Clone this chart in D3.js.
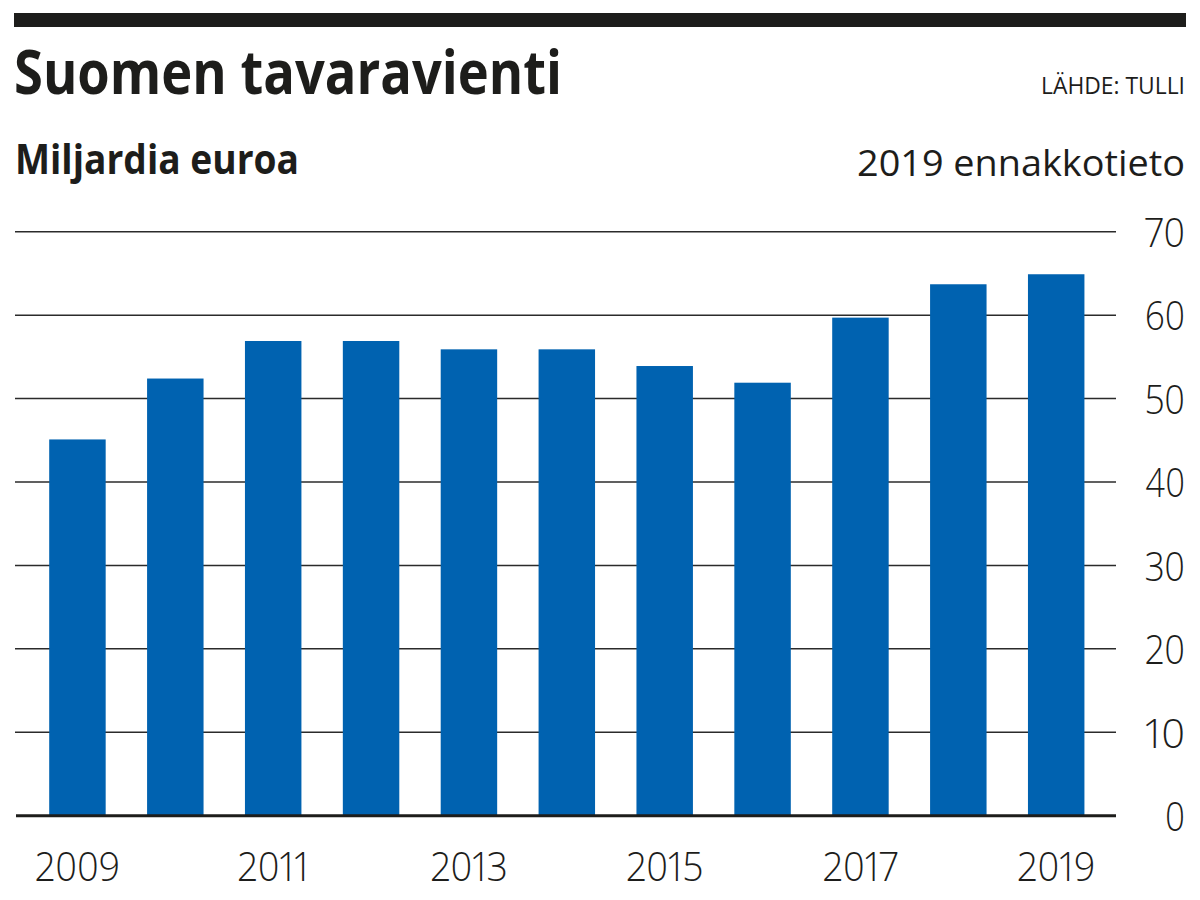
<!DOCTYPE html>
<html>
<head>
<meta charset="utf-8">
<script src="https://cdn.jsdelivr.net/npm/d3@7"></script>
<style>
  html, body { margin: 0; padding: 0; background: #fff; }
  svg { display: block; }
  text { font-family: "Open Sans", "Noto Sans", sans-serif; fill: #1d1d1b; }
  .num { font-feature-settings: "pnum" 1; font-variant-numeric: proportional-nums; }
</style>
</head>
<body>
<svg id="chart" width="1200" height="900"></svg>
<script>
// ---- data ----
const years = ["2009","2010","2011","2012","2013","2014","2015","2016","2017","2018","2019"];
const exportsBn = [45.1, 52.4, 56.9, 56.9, 55.9, 55.9, 53.9, 51.9, 59.7, 63.7, 64.9];
const yTicks = [0, 10, 20, 30, 40, 50, 60, 70];
const xTickLabels = ["2009","2011","2013","2015","2017","2019"];
const titleText = "Suomen tavaravienti";
const sourceText = "LÄHDE: TULLI";
const unitText = "Miljardia euroa";
const noteText = "2019 ennakkotieto";

const svg = d3.select("#chart");

// top rule
svg.append("rect").attr("x", 14).attr("y", 13).attr("width", 1172).attr("height", 14).attr("fill", "#1d1d1b");

// titles
svg.append("text").attr("x", 14).attr("y", 94)
  .attr("font-size", 60).attr("font-weight", 700)
  .attr("textLength", 548).attr("lengthAdjust", "spacingAndGlyphs")
  .text(titleText);
svg.append("text").attr("x", 1185).attr("y", 94).attr("text-anchor", "end")
  .attr("font-size", 23).attr("font-weight", 400)
  .attr("textLength", 144).attr("lengthAdjust", "spacingAndGlyphs")
  .text(sourceText);
svg.append("text").attr("x", 15).attr("y", 174)
  .attr("font-size", 42).attr("font-weight", 700)
  .attr("textLength", 284).attr("lengthAdjust", "spacingAndGlyphs")
  .text(unitText);
svg.append("text").attr("x", 1185).attr("y", 175.5).attr("text-anchor", "end")
  .attr("font-size", 37).attr("font-weight", 400)
  .attr("textLength", 328).attr("lengthAdjust", "spacingAndGlyphs")
  .text(noteText);

// scales
const x = d3.scaleBand().domain(years).range([15, 1116])
  .paddingInner(0.423).paddingOuter(0.336).align(0.52);
const y = d3.scaleLinear().domain([0, 70]).range([815.7, 231.7]);

// gridlines
svg.append("g").selectAll("line").data(yTicks.filter(d => d !== 0)).join("line")
  .attr("x1", 15).attr("x2", 1116)
  .attr("y1", d => y(d)).attr("y2", d => y(d))
  .attr("stroke", "#2b2b2b").attr("stroke-width", 1.5);

// bars
svg.append("g").selectAll("rect").data(years).join("rect")
  .attr("x", d => x(d))
  .attr("width", x.bandwidth())
  .attr("y", (d, i) => y(exportsBn[i]))
  .attr("height", (d, i) => y(0) - y(exportsBn[i]))
  .attr("fill", "#0062b0");

// baseline
svg.append("line").attr("x1", 16).attr("x2", 1116)
  .attr("y1", y(0)).attr("y2", y(0))
  .attr("stroke", "#1d1d1b").attr("stroke-width", 3);

// y axis (right)
const yAxis = d3.axisRight(y).tickValues(yTicks).tickSize(0).tickPadding(0);
const gy = svg.append("g").attr("transform", "translate(1185,0)").call(yAxis);
gy.select(".domain").remove();
gy.selectAll("text")
  .attr("class", "num")
  .attr("text-anchor", "end").attr("x", 0).attr("dy", "0.36em")
  .attr("font-size", 41).attr("font-weight", 300)
  .style("font-family", '"Open Sans", sans-serif').style("fill", "#1d1d1b")
  .attr("textLength", d => String(d).length * 20).attr("lengthAdjust", "spacingAndGlyphs");

// x axis
const xAxis = d3.axisBottom(x).tickValues(xTickLabels).tickSize(0).tickPadding(0);
const gx = svg.append("g").call(xAxis);
gx.select(".domain").remove();
const xt = gx.selectAll("text")
  .attr("class", "num")
  .attr("y", 881).attr("dy", 0)
  .attr("font-size", 41).attr("font-weight", 300)
  .style("font-family", '"Open Sans", sans-serif').style("fill", "#1d1d1b");
// compress horizontally, keeping each label's own proportions
let ref = 0;
xt.each(function(d) { if (d === "2013") ref = this.getComputedTextLength(); });
const k = ref ? 77 / ref : 0.82;
xt.each(function() {
  const w = this.getComputedTextLength();
  d3.select(this).attr("textLength", w * k).attr("lengthAdjust", "spacingAndGlyphs");
});
</script>
</body>
</html>
